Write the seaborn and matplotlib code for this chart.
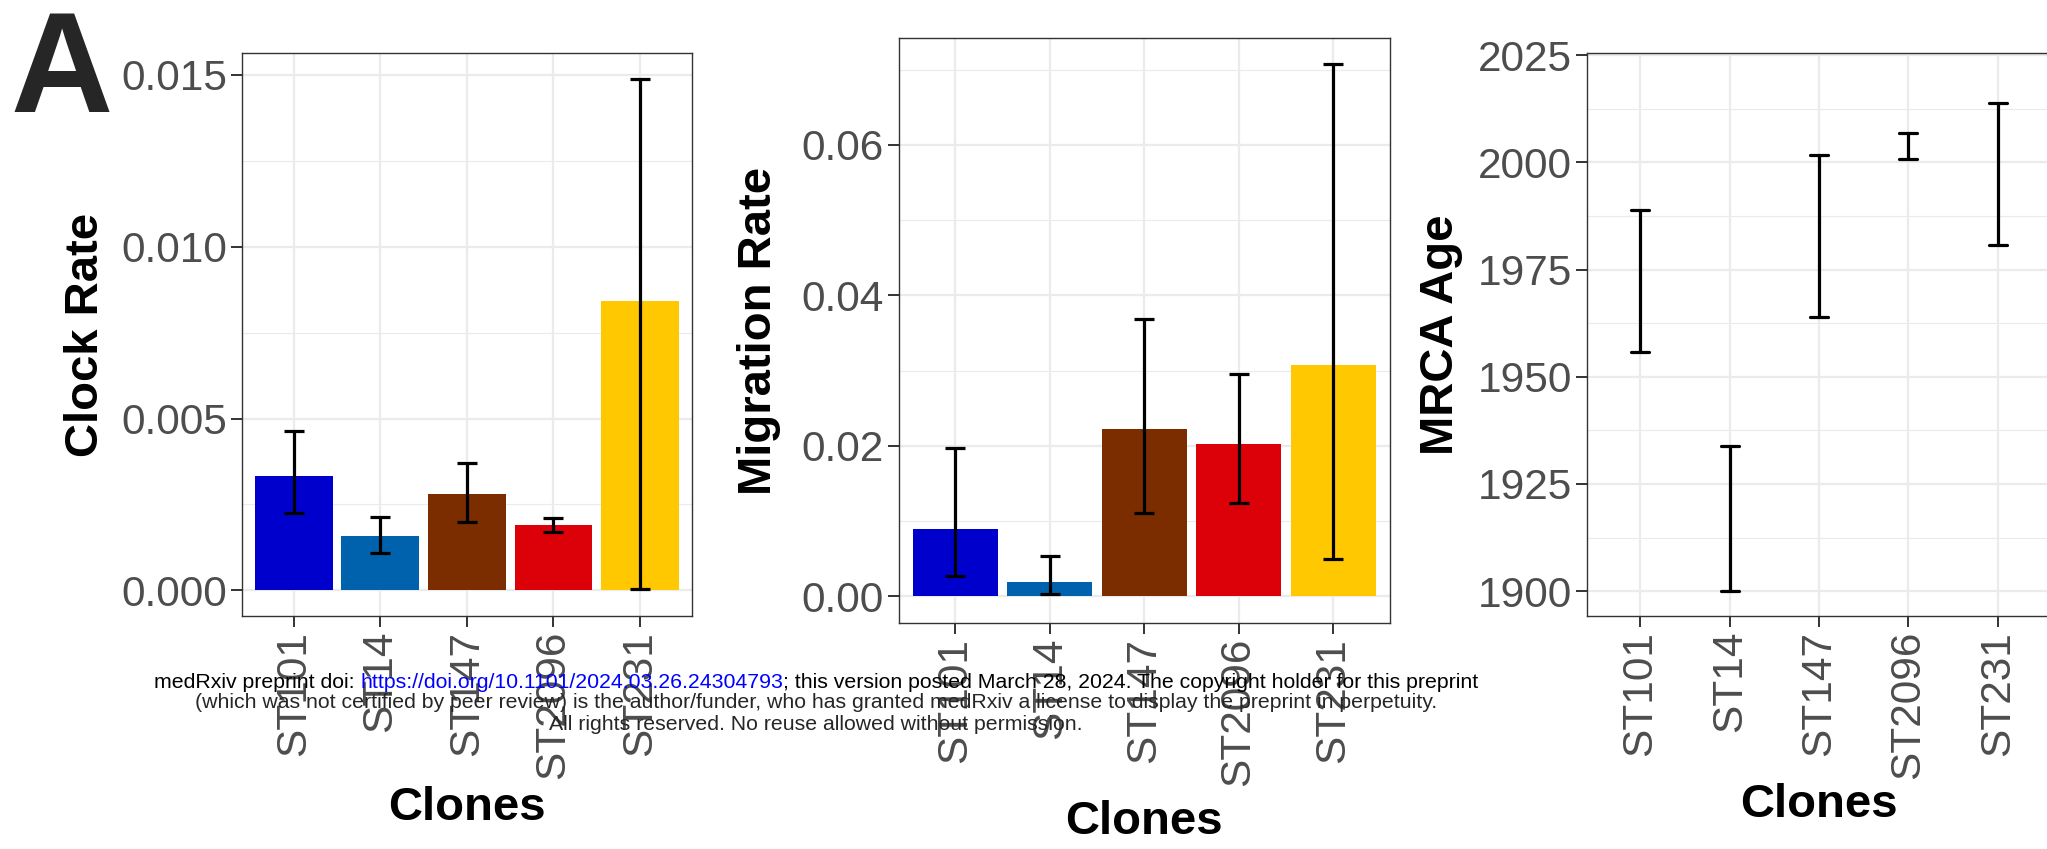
import numpy as np
import pandas as pd
import matplotlib
matplotlib.use("Agg")
import matplotlib.pyplot as plt
from matplotlib.ticker import MultipleLocator, FixedLocator
import seaborn as sns

clones = ["ST101", "ST14", "ST147", "ST2096", "ST231"]
bar_colors = ["#0000CC", "#0061AC", "#7B2D00", "#DC0009", "#FFC800"]

clock_rate = [0.00333, 0.00158, 0.00281, 0.00191, 0.00843]
clock_lo = [0.00224, 0.00110, 0.00199, 0.00169, 0.00005]
clock_hi = [0.00463, 0.00213, 0.00372, 0.00210, 0.01489]

mig_rate = [0.00896, 0.00186, 0.0223, 0.0203, 0.0308]
mig_lo = [0.00265, 0.0003, 0.0111, 0.01247, 0.00495]
mig_hi = [0.01971, 0.0053, 0.03685, 0.0296, 0.07075]

mrca_lo = [1955.8, 1900.0, 1963.9, 2000.7, 1980.8]
mrca_hi = [1988.8, 1933.8, 2001.7, 2006.9, 2013.8]

clock_ticks = [0.0, 0.005, 0.010, 0.015]
clock_ticklabels = ["0.000", "0.005", "0.010", "0.015"]
mig_ticks = [0.0, 0.02, 0.04, 0.06]
mig_ticklabels = ["0.00", "0.02", "0.04", "0.06"]
mrca_ticks = [1900, 1925, 1950, 1975, 2000, 2025]

sns.set_style("white")
plt.rcParams["font.family"] = ["Liberation Sans", "DejaVu Sans"]

TICK_FS = 30.5
LAB_FS = 34
GRID = "#EBEBEB"

fig = plt.figure(figsize=(20.47, 8.49), dpi=100)
ax1 = fig.add_axes([0.1182, 0.2744, 0.2198, 0.6631])
ax2 = fig.add_axes([0.4390, 0.2662, 0.2399, 0.6890])
ax3 = fig.add_axes([0.7752, 0.2744, 0.2269, 0.6631])


def style_axis(ax, ticks, ticklabels, minor_step, ylim, ylabel, ylab_x, xlab_y):
    ax.set_xlim(-0.6, len(clones) - 0.4)
    ax.set_ylim(*ylim)
    ax.yaxis.set_major_locator(FixedLocator(ticks))
    ax.set_yticklabels(ticklabels)
    ax.yaxis.set_minor_locator(MultipleLocator(minor_step))
    ax.set_xticks(range(len(clones)))
    ax.set_xticklabels(clones, rotation=90)
    ax.grid(which="major", color=GRID, linewidth=1.6)
    ax.grid(which="minor", axis="y", color=GRID, linewidth=0.8)
    ax.set_axisbelow(True)
    ax.tick_params(which="major", length=7.6, width=1.4, color="#333333",
                   labelsize=TICK_FS, labelcolor="#4D4D4D", pad=3,
                   bottom=True, left=True)
    ax.tick_params(which="minor", length=0)
    for sp in ax.spines.values():
        sp.set_color("#333333")
        sp.set_linewidth(1.0)
    ax.set_ylabel(ylabel, fontsize=LAB_FS, fontweight="bold", va="center", color="black")
    ax.yaxis.set_label_coords(ylab_x, 0.5)
    ax.set_xlabel("Clones", fontsize=LAB_FS, fontweight="bold", va="center", color="black")
    ax.xaxis.set_label_coords(0.5, xlab_y)


# Clock rate
sns.barplot(x=clones, y=clock_rate, hue=clones, palette=bar_colors, width=0.9,
            saturation=1, legend=False, linewidth=0, ax=ax1)
ax1.errorbar(np.arange(len(clones)), clock_rate,
             yerr=[np.subtract(clock_rate, clock_lo), np.subtract(clock_hi, clock_rate)],
             fmt="none", ecolor="black", elinewidth=2.3, capsize=7.5, capthick=2.3)
style_axis(ax1, clock_ticks, clock_ticklabels, 0.0025, (-0.000745, 0.01563),
           "Clock Rate", -0.347, -0.341)

# Migration rate
sns.barplot(x=clones, y=mig_rate, hue=clones, palette=bar_colors, width=0.9,
            saturation=1, legend=False, linewidth=0, ax=ax2)
ax2.errorbar(np.arange(len(clones)), mig_rate,
             yerr=[np.subtract(mig_rate, mig_lo), np.subtract(mig_hi, mig_rate)],
             fmt="none", ecolor="black", elinewidth=2.3, capsize=7.5, capthick=2.3)
style_axis(ax2, mig_ticks, mig_ticklabels, 0.01, (-0.00354, 0.0742),
           "Migration Rate", -0.284, -0.340)

# MRCA age: interval = min/max of the two bounds
mrca_df = pd.DataFrame({"clone": clones * 2, "year": mrca_lo + mrca_hi})
sns.pointplot(data=mrca_df, x="clone", y="year", errorbar=("pi", 100),
              capsize=0.2, color="black", linestyle="none", marker="",
              err_kws={"linewidth": 2.3}, ax=ax3)
style_axis(ax3, mrca_ticks, [str(t) for t in mrca_ticks], 12.5, (1894.2, 2025.5),
           "MRCA Age", -0.314, -0.336)

fig.text(0.005, 0.99, "A", fontsize=102, fontweight="bold", va="top", ha="left")

# medRxiv watermark
wm_fs = 15.3
cx = 816
parts = [("medRxiv preprint doi: ", "black"),
         ("https://doi.org/10.1101/2024.03.26.24304793", "blue"),
         ("; this version posted March 28, 2024. The copyright holder for this preprint", "black")]
renderer = fig.canvas.get_renderer()
texts = [fig.text(0, 0, s, color=c, fontsize=wm_fs, va="center", ha="left",
                  transform=None) for s, c in parts]
widths = [t.get_window_extent(renderer).width for t in texts]
x0 = cx - sum(widths) / 2
for t, w in zip(texts, widths):
    t.set_position((x0, 849 - 682))
    x0 += w
fig.text(cx / 2047, 1 - 703 / 849,
         "(which was not certified by peer review) is the author/funder, who has granted medRxiv a license to display the preprint in perpetuity.",
         fontsize=wm_fs, ha="center", va="center")
fig.text(cx / 2047, 1 - 724 / 849,
         "All rights reserved. No reuse allowed without permission.",
         fontsize=wm_fs, ha="center", va="center")

fig.savefig("out.png", dpi=100)
